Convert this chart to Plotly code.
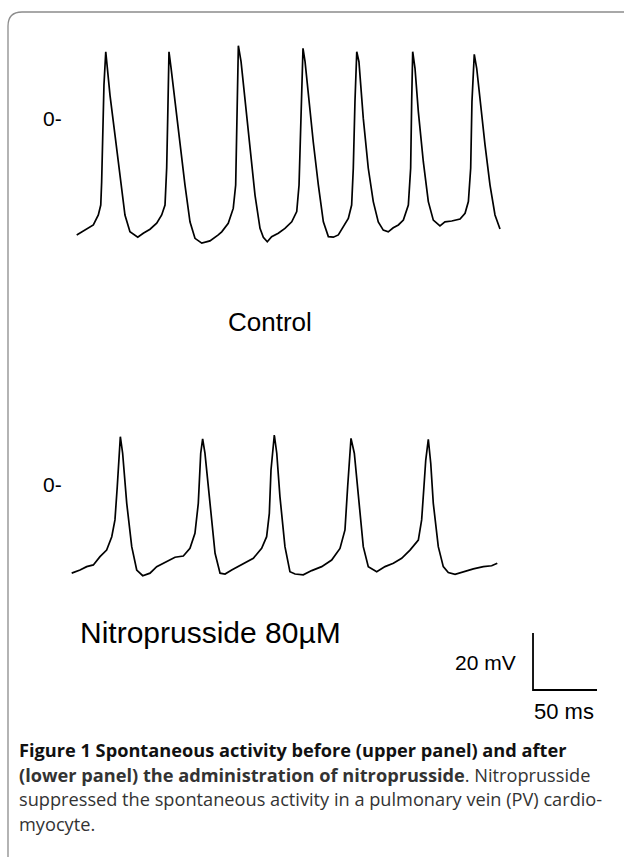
import plotly.graph_objects as go

# Control recording (upper panel): time in ms, membrane potential in mV
control_t = [0.0, 3.9, 7.8, 13.0, 16.9, 18.8, 19.5, 20.3, 21.3, 22.7, 23.9, 26.0, 29.9, 33.8,
             37.7, 41.6, 47.7, 52.0, 57.3, 62.5, 66.4, 69.0, 70.3, 71.1, 72.1, 73.7, 76.8, 80.7,
             84.6, 88.5, 92.4, 97.7, 104.1, 110.6, 113.3, 118.4, 122.3, 124.2, 125.0, 125.8,
             126.3, 128.4, 131.5, 135.4, 139.3, 143.2, 145.8, 148.9, 152.3, 157.5, 162.7, 168.0,
             171.9, 173.7, 174.7, 175.8, 176.8, 178.4, 180.9, 184.8, 188.8, 192.7, 196.6, 200.5,
             204.4, 208.3, 212.2, 214.8, 216.1, 217.4, 218.8, 220.5, 223.9, 227.8, 231.7, 235.6,
             239.5, 243.4, 247.3, 251.3, 255.2, 259.1, 260.9, 261.7, 262.5, 264.3, 266.9, 270.8,
             274.7, 278.6, 283.8, 287.7, 293.0, 299.5, 303.4, 306.0, 307.8, 308.8, 310.6, 312.5,
             315.1, 319.0, 322.9, 326.8, 330.7]
control_mv = [-43.5, -42.4, -41.5, -40.0, -36.5, -33.0, -24.8, -8.4, 9.1, 20.8, 15.0, 5.6, -8.4,
              -23.5, -36.5, -42.4, -44.3, -42.9, -41.5, -39.4, -36.5, -33.0, -20.0, -2.5, 20.8,
              15.1, 3.3, -11.9, -26.0, -38.9, -44.7, -46.4, -45.6, -43.5, -42.4, -39.4, -34.2,
              -26.0, -8.4, 15.0, 22.9, 17.3, 3.3, -14.3, -29.5, -41.2, -44.3, -45.9, -44.1, -42.9,
              -41.2, -38.9, -35.3, -26.0, -8.4, 12.6, 22.0, 17.3, 5.6, -10.8, -26.0, -38.9, -44.1,
              -44.3, -43.5, -40.6, -37.7, -33.0, -20.0, 3.3, 20.8, 17.3, -2.6, -20.1, -31.8, -38.9,
              -41.8, -42.4, -41.0, -40.0, -38.3, -33.0, -20.1, 3.3, 20.8, 15.0, -0.2, -17.8, -31.8,
              -38.3, -40.3, -38.9, -38.6, -37.9, -35.9, -31.8, -20.1, 3.3, 19.9, 15.0, 3.3, -11.9,
              -26.0, -36.5, -41.4]

# Nitroprusside 80 uM recording (lower panel)
nitro_t = [0.0, 6.5, 11.7, 16.9, 22.1, 27.3, 31.3, 33.8, 35.6, 37.0, 38.0, 39.8, 43.0, 46.9,
           50.8, 55.5, 61.2, 66.4, 74.2, 80.7, 87.2, 92.4, 96.3, 98.9, 100.8, 102.3, 104.1,
           108.0, 112.0, 115.9, 119.8, 125.0, 130.2, 135.4, 141.9, 148.4, 152.3, 154.4, 155.7,
           158.3, 160.2, 162.7, 166.6, 170.5, 174.5, 180.9, 187.5, 195.3, 203.1, 209.6, 213.5,
           215.6, 218.2, 220.8, 223.9, 227.8, 231.7, 238.3, 244.8, 251.3, 257.8, 264.3, 270.8,
           273.4, 275.2, 276.6, 278.6, 280.5, 282.5, 286.4, 290.3, 294.2, 299.5, 306.0, 313.8,
           321.6, 328.1, 332.5]
nitro_mv = [-32.0, -30.9, -29.7, -29.1, -26.2, -23.9, -19.2, -13.3, -1.6, 10.1, 15.9, 10.1, -7.5,
            -22.7, -30.9, -32.9, -32.0, -29.7, -28.0, -26.4, -26.0, -23.3, -18.0, -7.5, 10.1, 15.1,
            10.1, -7.5, -25.0, -32.0, -32.3, -30.9, -29.7, -28.5, -26.8, -23.3, -19.2, -11.0, 4.2,
            16.5, 10.1, -5.2, -22.7, -31.5, -32.3, -32.6, -31.1, -29.7, -27.4, -23.3, -16.8, -1.6,
            15.3, 10.1, -5.2, -22.7, -29.7, -31.5, -29.7, -28.5, -26.8, -23.9, -20.4, -13.3, -1.6,
            7.7, 15.0, 6.6, -7.5, -22.7, -29.7, -31.8, -32.4, -31.5, -30.5, -29.7, -29.4, -28.5]

scale_ms = 50
scale_mv = 20

W, H = 624, 857
MS_PER_PX = 0.78125
MV_PER_PX = 0.351


def px(x, y):
    return x / W, 1 - y / H


def xr(x0):
    # x range so that t=0 sits at pixel x0
    return [-x0 * MS_PER_PX, (W - x0) * MS_PER_PX]


def yr(y0):
    # y range so that 0 mV sits at pixel y0
    return [(y0 - H) * MV_PER_PX, y0 * MV_PER_PX]


fig = go.Figure()
line = dict(color="black", width=1.7)
fig.add_trace(go.Scatter(x=control_t, y=control_mv, mode="lines", line=line,
                         xaxis="x", yaxis="y", hoverinfo="skip"))
fig.add_trace(go.Scatter(x=nitro_t, y=nitro_mv, mode="lines", line=line,
                         xaxis="x2", yaxis="y2", hoverinfo="skip"))

# scale bar (lower panel units)
bx, by = 360.4, -73.0
fig.add_trace(go.Scatter(x=[bx, bx, bx + scale_ms], y=[by + scale_mv, by, by],
                         mode="lines", line=dict(color="black", width=1.8),
                         xaxis="x2", yaxis="y2", hoverinfo="skip"))

ax = dict(visible=False, fixedrange=True)
fig.update_layout(
    width=W, height=H,
    margin=dict(l=0, r=0, t=0, b=0),
    paper_bgcolor="white", plot_bgcolor="rgba(0,0,0,0)",
    showlegend=False,
    xaxis=dict(ax, domain=[0, 1], range=xr(76.7)),
    yaxis=dict(ax, domain=[0, 1], range=yr(111)),
    xaxis2=dict(ax, domain=[0, 1], range=xr(71.7), anchor="y2"),
    yaxis2=dict(ax, domain=[0, 1], range=yr(482), anchor="x2"),
)

# frame: top and left edges with rounded corner
x8, y12 = px(8, 12)
fig.add_shape(type="path", xref="paper", yref="paper",
              path=(f"M {px(8, 857)[0]},{px(8, 857)[1]} L {px(8, 26)[0]},{px(8, 26)[1]} "
                    f"Q {x8},{y12} {px(22, 12)[0]},{px(22, 12)[1]} L 1,{y12}"),
              line=dict(color="#8c8c8c", width=1.3))

arial = "Liberation Sans, Arial, sans-serif"


def label(text, x, y, size, xanchor="left", font=arial, color="black"):
    fx, fy = px(x, y)
    fig.add_annotation(text=text, x=fx, y=fy, xref="paper", yref="paper",
                       xanchor=xanchor, yanchor="middle", showarrow=False,
                       font=dict(family=font, size=size, color=color))


label("0-", 41, 118, 21)
label("0-", 41, 484, 21)
label("Control", 270, 322, 26, xanchor="center")
label("Nitroprusside 80\u00b5M", 78, 632, 30)
label("20 mV", 453, 662, 21)
label("50 ms", 532, 711, 22)

cap = "Open Sans, sans-serif"
csize = 18.2
label("<b>Figure 1 Spontaneous activity before (upper panel) and after</b>", 17, 750, csize, font=cap, color="#111")
label("<b>(lower panel) the administration of nitroprusside</b>. Nitroprusside", 17, 775, csize, font=cap, color="#333")
label("suppressed the spontaneous activity in a pulmonary vein (PV) cardio-", 17, 799, csize, font=cap, color="#333")
label("myocyte.", 17, 824, csize, font=cap, color="#333")

fig.write_html("out.html", config={"displayModeBar": False},
               post_script="document.body.style.margin='0';")
